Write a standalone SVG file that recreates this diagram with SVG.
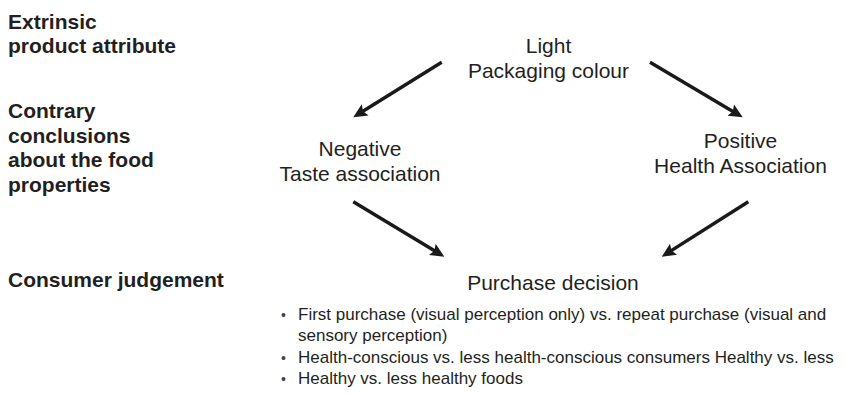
<svg xmlns="http://www.w3.org/2000/svg" width="845" height="395" viewBox="0 0 845 395">
<style>
  .lbl { font-family: "Liberation Sans", Arial, sans-serif; font-weight: bold; font-size: 21px; fill: #231f20; }
  .node { font-family: "Liberation Sans", Arial, sans-serif; font-size: 21px; fill: #231f20; text-anchor: middle; }
  .item { font-family: "Liberation Sans", Arial, sans-serif; font-size: 17px; fill: #231f20; }
  .bul { font-family: "Liberation Sans", Arial, sans-serif; font-size: 14px; fill: #444; }
  .arrow { stroke: #1a1a1a; stroke-width: 3.4; fill: none; marker-end: url(#head); }
</style>
<defs>
  <marker id="head" viewBox="-14 -7 14 14" markerWidth="14" markerHeight="14" refX="-9" refY="0" markerUnits="userSpaceOnUse" orient="auto">
    <path d="M0,0 L-14,-6.5 L-11.5,0 L-14,6.5 Z" fill="#1a1a1a"/>
  </marker>
</defs>
<rect width="845" height="395" fill="#ffffff"/>
<g id="level-labels">
  <text class="lbl" x="8" y="29">Extrinsic</text>
  <text class="lbl" x="8" y="53">product attribute</text>
  <text class="lbl" x="8" y="118">Contrary</text>
  <text class="lbl" x="8" y="142.5">conclusions</text>
  <text class="lbl" x="8" y="167">about the food</text>
  <text class="lbl" x="8" y="191.5">properties</text>
  <text class="lbl" x="8" y="287">Consumer judgement</text>
</g>
<g id="node-light">
  <text class="node" x="548.5" y="53">Light</text>
  <text class="node" x="548.5" y="77.5">Packaging colour</text>
</g>
<g id="node-negative">
  <text class="node" x="360" y="156">Negative</text>
  <text class="node" x="360" y="180.5">Taste association</text>
</g>
<g id="node-positive">
  <text class="node" x="740.5" y="148">Positive</text>
  <text class="node" x="740.5" y="173">Health Association</text>
</g>
<g id="node-purchase">
  <text class="node" x="553" y="290">Purchase decision</text>
  <text class="bul" x="281" y="320">•</text>
  <text class="item" x="298" y="320">First purchase (visual perception only) vs. repeat purchase (visual and</text>
  <text class="item" x="298" y="341">sensory perception)</text>
  <text class="bul" x="281" y="362.5">•</text>
  <text class="item" x="298" y="362.5">Health-conscious vs. less health-conscious consumers Healthy vs. less</text>
  <text class="bul" x="281" y="383.5">•</text>
  <text class="item" x="298" y="383.5">Healthy vs. less healthy foods</text>
</g>
<g id="connectors">
  <line class="arrow" x1="441.7" y1="62.3" x2="360.9" y2="112.5"/>
  <line class="arrow" x1="650" y1="62.3" x2="735.0" y2="112.7"/>
  <line class="arrow" x1="353.3" y1="201.7" x2="436.6" y2="252.0"/>
  <line class="arrow" x1="748.3" y1="201.7" x2="669.3" y2="251.9"/>
</g>
</svg>
